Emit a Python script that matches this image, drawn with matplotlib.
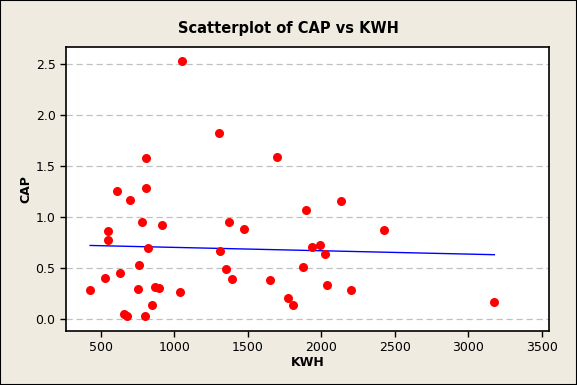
import matplotlib
matplotlib.use("Agg")
import matplotlib.pyplot as plt
import numpy as np

kwh = [427, 529, 551, 551, 608, 633, 658, 676, 701, 755, 762, 780, 799, 805, 805,
       823, 850, 871, 893, 919, 1041, 1050, 1302, 1313, 1354, 1370, 1390, 1476,
       1651, 1697, 1773, 1807, 1873, 1896, 1935, 1991, 2025, 2039, 2132, 2202,
       2427, 3177]
cap = [0.29, 0.405, 0.866, 0.777, 1.26, 0.454, 0.052, 0.032, 1.17, 0.297, 0.532,
       0.954, 0.032, 1.29, 1.58, 0.699, 0.140, 0.317, 0.307, 0.925, 0.268, 2.53,
       1.83, 0.670, 0.493, 0.954, 0.395, 0.885, 0.385, 1.59, 0.209, 0.140, 0.513,
       1.075, 0.712, 0.728, 0.640, 0.336, 1.163, 0.287, 0.875, 0.170]

x_ticks = [500, 1000, 1500, 2000, 2500, 3000, 3500]
y_ticks = [0.0, 0.5, 1.0, 1.5, 2.0, 2.5]

# Fitted line
slope, intercept = np.polyfit(kwh, cap, 1)
xfit = np.array([min(kwh), max(kwh)])
yfit = intercept + slope * xfit

bg = '#efebe0'
fig = plt.figure(figsize=(5.77, 3.85), dpi=100, facecolor=bg)
fig.patches.append(plt.Rectangle((0, 0), 1, 1, transform=fig.transFigure,
                                 fill=False, edgecolor='black', linewidth=1.5))
ax = fig.add_axes([0.1144, 0.1403, 0.8371, 0.7377])
ax.set_facecolor('white')

for y in y_ticks:
    ax.axhline(y, color='#c0c0c0', linestyle=(0, (5, 3)), linewidth=0.9, zorder=1)

ax.plot(xfit, yfit, color='blue', linewidth=1, zorder=2)
ax.scatter(kwh, cap, s=30, color='red', edgecolors='red', zorder=3)

ax.set_xlim(263, 3549)
ax.set_ylim(-0.115, 2.67)
ax.set_xticks(x_ticks)
ax.set_yticks(y_ticks)
ax.set_yticklabels([f'{v:.1f}' for v in y_ticks])
ax.tick_params(direction='out', length=4, width=1, labelsize=9, colors='black')
for s in ax.spines.values():
    s.set_linewidth(1.2)

ax.set_xlabel('KWH', fontsize=9, fontweight='bold', labelpad=1)
ax.set_ylabel('CAP', fontsize=9, fontweight='bold', labelpad=2)
fig.text(0.5, 0.925, 'Scatterplot of CAP vs KWH', ha='center', va='center',
         fontsize=10.5, fontweight='bold')

fig.savefig('out.png', dpi=100, facecolor=bg)
